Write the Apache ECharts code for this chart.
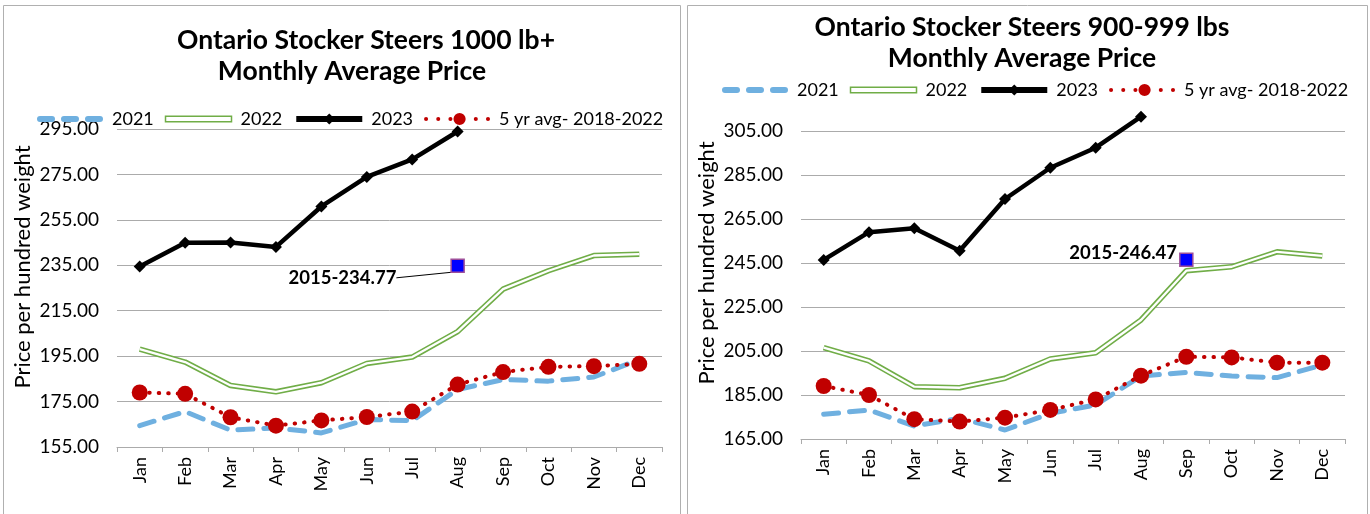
<!DOCTYPE html>
<html>
<head>
<meta charset="utf-8">
<script src="https://cdn.jsdelivr.net/npm/echarts@6/dist/echarts.min.js"></script>
<style>
  html, body { margin: 0; padding: 0; background: #fff; }
  #chart { width: 1370px; height: 514px; }
</style>
</head>
<body>
<div id="chart"></div>
<script>
const months = ['Jan', 'Feb', 'Mar', 'Apr', 'May', 'Jun', 'Jul', 'Aug', 'Sep', 'Oct', 'Nov', 'Dec']

// 1000 lb+ (left)
const heavy2021 = [164.4, 170.6, 162.4, 163.4, 161.2, 167.1, 166.6, 180.3, 184.7, 184.0, 185.8, 193.5]
const heavy2022 = [198.1, 192.4, 182.1, 179.3, 183.3, 191.8, 194.6, 205.8, 224.5, 232.6, 239.3, 239.9]
const heavy2023 = [234.5, 244.9, 245.0, 243.1, 260.9, 273.9, 281.6, 293.9]
const heavyAvg  = [179.0, 178.4, 168.1, 164.4, 166.7, 168.2, 170.6, 182.5, 188.0, 190.3, 190.6, 191.6]
const heavyRecord = ['Aug', 234.77]

// 900-999 lbs (right)
const mid2021 = [176.2, 178.2, 170.9, 174.4, 169.1, 176.7, 180.5, 193.6, 195.3, 193.6, 192.9, 198.6]
const mid2022 = [206.5, 200.5, 188.8, 188.3, 192.6, 201.4, 204.2, 219.1, 241.5, 243.3, 250.1, 248.2]
const mid2023 = [246.4, 259.0, 260.8, 250.6, 274.1, 288.3, 297.4, 311.5]
const midAvg  = [189.1, 185.0, 174.0, 172.9, 174.7, 178.2, 183.0, 193.8, 202.4, 202.1, 199.7, 199.7]
const midRecord = ['Sep', 246.47]

const seriesNames = ['2021', '2022', '2023', '5 yr avg- 2018-2022']
const FONT = 'Lato'
const GRID = '#ababab'

function titles(y, line1, line2) {
  const ts = { fontFamily: FONT, fontSize: 26.5, fontWeight: 'bold', color: '#000', lineHeight: 31 }
  return [
    { text: line1[0], left: line1[1], top: y, textAlign: 'center', padding: 0, textStyle: ts },
    { text: line2[0], left: line2[1], top: y + 31, textAlign: 'center', padding: 0, textStyle: ts },
  ]
}

function axes(idx, min, max, namePad) {
  return {
    x: {
      type: 'category', gridIndex: idx, data: months, boundaryGap: true,
      axisLine: { lineStyle: { color: GRID, width: 1 } },
      axisTick: { show: true, length: 5, lineStyle: { color: GRID } },
      axisLabel: { rotate: 90, fontFamily: FONT, fontSize: 18, color: '#000', margin: 10 },
    },
    y: {
      type: 'value', gridIndex: idx, min, max, interval: 20,
      name: 'Price per hundred weight', nameLocation: 'middle', nameGap: 83,
      nameTextStyle: { fontFamily: FONT, fontSize: 22, color: '#000', padding: [0, 0, 0, namePad] },
      axisLine: { show: false }, axisTick: { show: false },
      splitLine: { lineStyle: { color: GRID, width: 1 } },
      axisLabel: { fontFamily: FONT, fontSize: 19, color: '#000', margin: 18, formatter: v => v.toFixed(2) },
    },
  }
}

function seriesFor(idx, d2021, d2022, d2023, dAvg, record, labelOpts) {
  const base = { type: 'line', xAxisIndex: idx, yAxisIndex: idx, clip: false, animation: false }
  return [
    { ...base, name: seriesNames[0], data: d2021, symbol: 'none',
      lineStyle: { color: '#6fb0e0', width: 5, type: [15, 11], cap: 'round' }, itemStyle: { color: '#6fb0e0' } },
    { ...base, name: seriesNames[1], data: d2022, symbol: 'none',
      lineStyle: { color: '#70ad47', width: 5.5 }, itemStyle: { color: '#70ad47' } },
    { ...base, name: '2022-inner', data: d2022, symbol: 'none', silent: true,
      lineStyle: { color: '#fff', width: 2.3 } },
    { ...base, name: seriesNames[2], data: d2023, symbol: 'diamond', symbolSize: 12,
      lineStyle: { color: '#000', width: 4.5 }, itemStyle: { color: '#000' } },
    { ...base, name: seriesNames[3], data: dAvg, symbol: 'circle', symbolSize: 16,
      lineStyle: { color: '#c00000', width: 4, type: [0.5, 9], cap: 'round' }, itemStyle: { color: '#c00000' } },
    { type: 'scatter', name: '2015', xAxisIndex: idx, yAxisIndex: idx, animation: false,
      data: [record], symbol: 'rect', symbolSize: 13,
      itemStyle: { color: '#0000ff', borderColor: '#9e4f9a', borderWidth: 1.5, opacity: 1 },
      label: {
        show: true, position: 'left',
        fontFamily: FONT, fontSize: 18.5, fontWeight: 'bold', color: '#000',
        formatter: p => '2015-' + p.value[1].toFixed(2),
      },
      ...labelOpts },
  ]
}

const dashIcon = 'path://M3,0H15A3,3 0 0 1 15,6H3A3,3 0 0 1 3,0Z' +
  'M27,0H39A3,3 0 0 1 39,6H27A3,3 0 0 1 27,0Z' +
  'M51,0H63A3,3 0 0 1 63,6H51A3,3 0 0 1 51,0Z'

function dot(cx, r) {
  return 'M' + (cx - r) + ',6A' + r + ',' + r + ' 0 1 0 ' + (cx + r) + ',6A' + r + ',' + r + ' 0 1 0 ' + (cx - r) + ',6Z'
}
const dotIcon = 'path://' + dot(2, 2) + dot(14, 2) + dot(26, 2) + dot(35, 6) + dot(51, 2) + dot(63, 2)

function legendAt(left, top) {
  return {
    left, top, width: 680, padding: 0, itemWidth: 66, itemHeight: 14, itemGap: 11,
    textStyle: { fontFamily: FONT, fontSize: 18, color: '#000', padding: [0, 0, 0, 4] },
    data: [
      { name: seriesNames[0], icon: dashIcon, itemStyle: { color: '#6fb0e0' } },
      { name: seriesNames[1], icon: 'path://M0,0H70V6H0Z',
        itemStyle: { color: '#fff', borderColor: '#70ad47', borderWidth: 1.5 } },
      { name: seriesNames[2], lineStyle: { width: 6 } },
      { name: seriesNames[3], icon: dotIcon, itemStyle: { color: '#c00000' } },
    ],
  }
}

const leftAxes = axes(0, 155, 295, 42)
const rightAxes = axes(1, 165, 305, 44)

const option = {
  backgroundColor: '#fff',
  title: [
    ...titles(24.5, ['Ontario Stocker Steers 1000 lb+', 366], ['Monthly Average Price', 352]),
    ...titles(11.5, ['Ontario Stocker Steers 900-999 lbs', 1022], ['Monthly Average Price', 1022]),
  ],
  legend: [legendAt(37, 110), legendAt(722, 81)],
  grid: [
    { left: 117, right: 708, top: 129, bottom: 67 },
    { left: 801, right: 25, top: 131, bottom: 75 },
  ],
  xAxis: [leftAxes.x, rightAxes.x],
  yAxis: [leftAxes.y, rightAxes.y],
  series: [
    ...seriesFor(0, heavy2021, heavy2022, heavy2023, heavyAvg, heavyRecord, {
      labelLayout: { dx: -27, dy: 12 },
      labelLine: { show: true, lineStyle: { color: '#000', width: 1 } },
    }),
    ...seriesFor(1, mid2021, mid2022, mid2023, midAvg, midRecord, {
      labelLayout: { dx: 3, dy: -7 },
    }),
  ],
  graphic: [
    { type: 'rect', shape: { x: 3.5, y: 5.5, width: 677, height: 520 }, style: { fill: 'none', stroke: '#b0b0b0', lineWidth: 1 }, silent: true },
    { type: 'rect', shape: { x: 687.5, y: 5.5, width: 680, height: 520 }, style: { fill: 'none', stroke: '#b0b0b0', lineWidth: 1 }, silent: true },
  ],
}

// label padding so the leader line starts a little right of the text
option.series[5].label.padding = [0, 22, 0, 0]

const chart = echarts.init(document.getElementById('chart'), null, { renderer: 'canvas' })
chart.setOption(option)
</script>
</body>
</html>
